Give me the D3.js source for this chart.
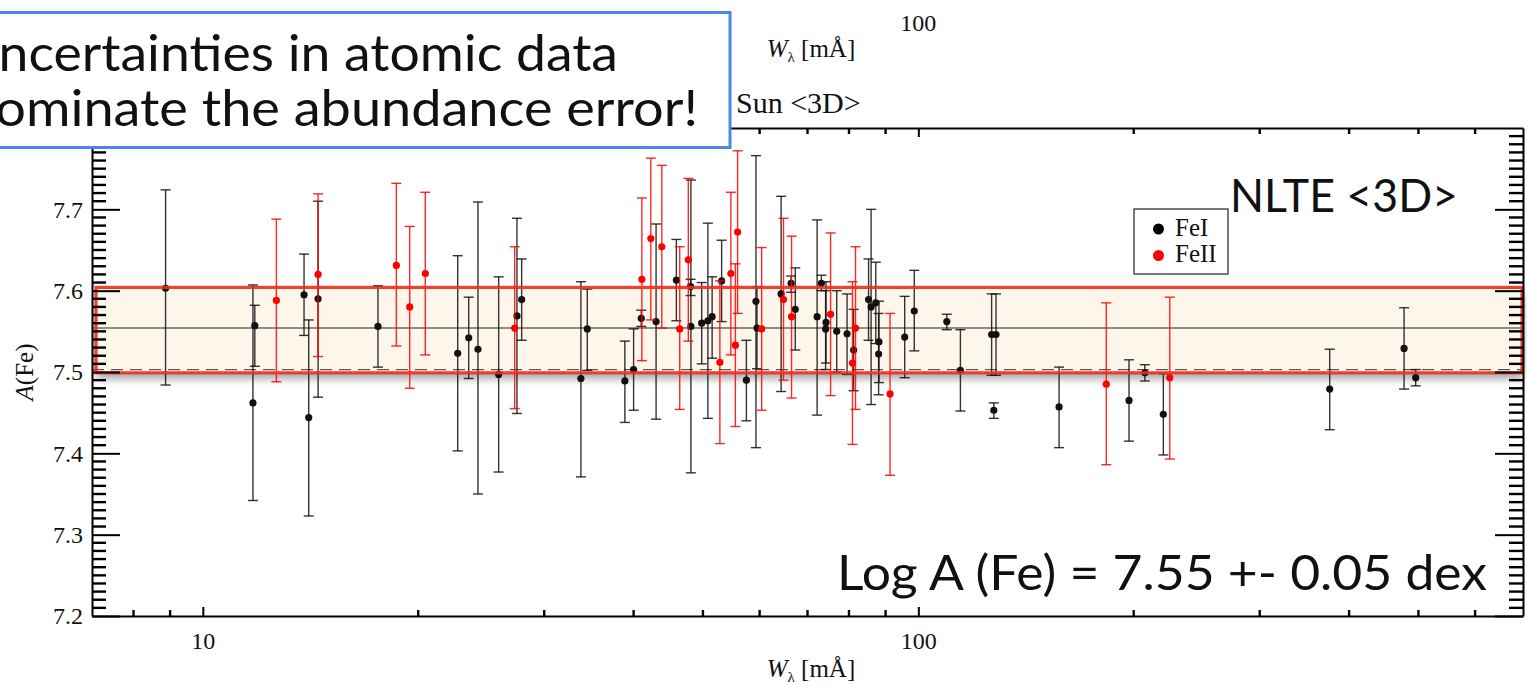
<!DOCTYPE html>
<html>
<head>
<meta charset="utf-8">
<script src="https://cdn.jsdelivr.net/npm/d3@7"></script>
<style>
  body { margin: 0; background: #fff; }
  svg { display: block; }
</style>
</head>
<body>
<div id="chart"></div>
<script>
// Fe I lines: [W_lambda (mA), A(Fe), low end of error bar, high end of error bar]
var feI = [
  [8.87, 7.603, 7.484, 7.724],
  [11.82, 7.557, 7.507, 7.582],
  [11.75, 7.462, 7.342, 7.607],
  [13.85, 7.595, 7.545, 7.645],
  [14.06, 7.444, 7.323, 7.564],
  [14.49, 7.590, 7.469, 7.710],
  [17.57, 7.556, 7.506, 7.606],
  [22.71, 7.523, 7.403, 7.643],
  [23.53, 7.542, 7.492, 7.592],
  [24.24, 7.528, 7.350, 7.709],
  [25.91, 7.497, 7.377, 7.617],
  [27.48, 7.569, 7.449, 7.689],
  [27.90, 7.589, 7.539, 7.639],
  [33.76, 7.492, 7.371, 7.611],
  [34.46, 7.553, 7.502, 7.602],
  [38.89, 7.489, 7.438, 7.538],
  [40.00, 7.503, 7.453, 7.553],
  [41.00, 7.566, 7.556, 7.576],
  [43.00, 7.562, 7.442, 7.682],
  [45.90, 7.613, 7.563, 7.663],
  [48.10, 7.556, 7.376, 7.736],
  [48.05, 7.605, 7.594, 7.614],
  [49.80, 7.560, 7.510, 7.610],
  [50.80, 7.563, 7.443, 7.683],
  [51.50, 7.568, 7.517, 7.617],
  [53.10, 7.612, 7.562, 7.662],
  [57.50, 7.490, 7.440, 7.539],
  [59.30, 7.587, 7.407, 7.766],
  [59.50, 7.554, 7.504, 7.605],
  [64.30, 7.596, 7.476, 7.716],
  [66.40, 7.609, 7.598, 7.618],
  [67.30, 7.577, 7.527, 7.628],
  [72.20, 7.568, 7.447, 7.687],
  [73.20, 7.609, 7.600, 7.619],
  [74.30, 7.561, 7.511, 7.611],
  [74.20, 7.553, 7.503, 7.600],
  [76.90, 7.550, 7.500, 7.600],
  [79.50, 7.547, 7.497, 7.596],
  [81.20, 7.527, 7.477, 7.577],
  [85.20, 7.589, 7.539, 7.639],
  [85.90, 7.580, 7.460, 7.700],
  [87.20, 7.585, 7.535, 7.635],
  [88.10, 7.537, 7.487, 7.587],
  [88.00, 7.522, 7.472, 7.572],
  [95.70, 7.543, 7.493, 7.593],
  [98.70, 7.575, 7.526, 7.625],
  [109.6, 7.562, 7.552, 7.571],
  [114.5, 7.502, 7.452, 7.552],
  [126.6, 7.546, 7.496, 7.596],
  [128.4, 7.546, 7.496, 7.596],
  [127.5, 7.453, 7.443, 7.462],
  [157.3, 7.457, 7.407, 7.506],
  [197.0, 7.465, 7.415, 7.515],
  [207.3, 7.499, 7.489, 7.509],
  [220.0, 7.448, 7.398, 7.498],
  [375.8, 7.479, 7.429, 7.528],
  [477.4, 7.529, 7.479, 7.579],
  [495.6, 7.493, 7.483, 7.503]
];

// Fe II lines
var feII = [
  [12.67, 7.588, 7.488, 7.688],
  [14.49, 7.620, 7.519, 7.719],
  [18.64, 7.631, 7.532, 7.732],
  [19.46, 7.580, 7.480, 7.679],
  [20.46, 7.621, 7.521, 7.721],
  [27.28, 7.554, 7.455, 7.654],
  [41.08, 7.614, 7.514, 7.714],
  [42.28, 7.664, 7.564, 7.763],
  [43.80, 7.654, 7.554, 7.754],
  [46.40, 7.553, 7.454, 7.654],
  [47.70, 7.638, 7.538, 7.738],
  [52.80, 7.512, 7.412, 7.612],
  [54.70, 7.621, 7.521, 7.721],
  [55.50, 7.533, 7.433, 7.633],
  [55.90, 7.672, 7.572, 7.772],
  [60.40, 7.553, 7.453, 7.653],
  [64.80, 7.589, 7.490, 7.689],
  [66.50, 7.568, 7.468, 7.667],
  [75.40, 7.571, 7.471, 7.671],
  [80.90, 7.511, 7.411, 7.611],
  [81.70, 7.554, 7.454, 7.654],
  [91.30, 7.473, 7.373, 7.572],
  [183.1, 7.485, 7.386, 7.585],
  [224.6, 7.493, 7.393, 7.592]
];

// reference levels: mean, meteoritic value, and the +- band
var meanLevel = 7.554;
var dashedLevel = 7.503;
var bandLevels = [7.499, 7.604];

// ticks
var yTickLabels = [7.2, 7.3, 7.4, 7.5, 7.6, 7.7];
var xTickLabels = [10, 100];
var xMinorTicks = [8, 9, 20, 30, 40, 50, 60, 70, 80, 90, 200, 300, 400, 500, 600];

// Set up SVG frame
var svgWidth = 1527;
var svgHeight = 685;

var Margin = { top: 128, right: 4, bottom: 69, left: 92 };

var width = svgWidth - Margin.left - Margin.right;
var height = svgHeight - Margin.top - Margin.bottom;

var svg = d3.select("#chart")
  .append("svg")
  .attr("width", svgWidth)
  .attr("height", svgHeight);

var defs = svg.append("defs");
var shadow = defs.append("filter")
  .attr("id", "bandShadow")
  .attr("x", "-5%").attr("y", "-20%")
  .attr("width", "110%").attr("height", "160%");
shadow.append("feDropShadow")
  .attr("dx", 1).attr("dy", 6)
  .attr("stdDeviation", 4)
  .attr("flood-color", "#000")
  .attr("flood-opacity", 0.35);

var chartGroup = svg.append("g")
  .attr("transform", `translate(${Margin.left}, ${Margin.top})`);

// scales
var xLogScale = d3.scaleLog().domain([7, 700]).range([0, width]);
var yLinearScale = d3.scaleLinear().domain([7.2, 7.8]).range([height, 0]);

var serif = "'Liberation Serif', 'DejaVu Serif', serif";
var sans = "Lato, 'Open Sans', sans-serif";

// shaded band (fill + shadow under the data)
var bandX0 = 4, bandX1 = width - 1;
chartGroup.append("rect")
  .attr("x", bandX0)
  .attr("y", yLinearScale(bandLevels[1]))
  .attr("width", bandX1 - bandX0)
  .attr("height", yLinearScale(bandLevels[0]) - yLinearScale(bandLevels[1]))
  .attr("fill", "#fef5eb")
  .attr("filter", "url(#bandShadow)");

// mean line and dashed line
chartGroup.append("line")
  .attr("x1", 0).attr("x2", width)
  .attr("y1", yLinearScale(meanLevel)).attr("y2", yLinearScale(meanLevel))
  .attr("stroke", "#6e6864")
  .attr("stroke-width", 1.5);

chartGroup.append("line")
  .attr("x1", 0).attr("x2", width)
  .attr("y1", yLinearScale(dashedLevel)).attr("y2", yLinearScale(dashedLevel))
  .attr("stroke", "#555")
  .attr("stroke-width", 1.3)
  .attr("stroke-dasharray", "12,7");

// error bars + points for one ion
function drawSeries(data, color, barOpacity) {
  var g = chartGroup.append("g");
  var bars = g.selectAll(".bar")
    .data(data)
    .enter()
    .append("g")
    .attr("stroke", color)
    .attr("stroke-opacity", barOpacity)
    .attr("stroke-width", 1.4);

  bars.append("line")
    .attr("x1", d => xLogScale(d[0])).attr("x2", d => xLogScale(d[0]))
    .attr("y1", d => yLinearScale(d[2])).attr("y2", d => yLinearScale(d[3]));
  bars.append("line")
    .attr("x1", d => xLogScale(d[0]) - 5).attr("x2", d => xLogScale(d[0]) + 5)
    .attr("y1", d => yLinearScale(d[2])).attr("y2", d => yLinearScale(d[2]));
  bars.append("line")
    .attr("x1", d => xLogScale(d[0]) - 5).attr("x2", d => xLogScale(d[0]) + 5)
    .attr("y1", d => yLinearScale(d[3])).attr("y2", d => yLinearScale(d[3]));

  g.selectAll("circle")
    .data(data)
    .enter()
    .append("circle")
    .attr("cx", d => xLogScale(d[0]))
    .attr("cy", d => yLinearScale(d[1]))
    .attr("r", 3.6)
    .attr("fill", color);
}

drawSeries(feI, "#111", 0.85);
drawSeries(feII, "#ff0000", 0.85);

// band outline on top of the data
chartGroup.append("rect")
  .attr("x", bandX0)
  .attr("y", yLinearScale(bandLevels[1]))
  .attr("width", bandX1 - bandX0)
  .attr("height", yLinearScale(bandLevels[0]) - yLinearScale(bandLevels[1]))
  .attr("fill", "none")
  .attr("stroke", "#ee2e1c")
  .attr("stroke-opacity", 0.9)
  .attr("stroke-width", 3.2);

// axes
function styleAxis(sel) {
  sel.selectAll("path").attr("stroke", "#000").attr("stroke-width", 2);
  sel.selectAll("line").attr("stroke", "#000").attr("stroke-width", 2);
  sel.selectAll("text")
    .attr("fill", "#111")
    .style("font-family", serif)
    .style("font-size", "24px");
}

chartGroup.append("g")
  .call(d3.axisLeft(yLinearScale).tickValues(yTickLabels).tickSizeInner(-28).tickSizeOuter(0)
    .tickPadding(9).tickFormat(d3.format(".1f")))
  .call(styleAxis);

chartGroup.append("g")
  .attr("transform", `translate(${width}, 0)`)
  .call(d3.axisRight(yLinearScale).tickValues(yTickLabels).tickSizeInner(-28).tickSizeOuter(0)
    .tickFormat(() => ""))
  .call(styleAxis);

chartGroup.append("g")
  .attr("transform", `translate(0, ${height})`)
  .call(d3.axisBottom(xLogScale).tickValues(xTickLabels).tickSizeInner(-9).tickSizeOuter(0)
    .tickPadding(16).tickFormat(d3.format("d")))
  .call(styleAxis);

chartGroup.append("g")
  .call(d3.axisTop(xLogScale).tickValues(xTickLabels).tickSizeInner(-9).tickSizeOuter(0)
    .tickFormat(() => ""))
  .call(styleAxis);

// axis titles
function wLabel(x, y) {
  var t = svg.append("text")
    .attr("x", x).attr("y", y)
    .attr("text-anchor", "middle")
    .attr("fill", "#111")
    .style("font-family", serif)
    .style("font-size", "25px");
  t.append("tspan").style("font-style", "italic").text("W");
  t.append("tspan").attr("dy", 5).style("font-size", "15px").text("λ");
  t.append("tspan").attr("dy", -5).text(" [mÅ]");
}
wLabel(811, 677);
wLabel(811, 57);

svg.append("text")
  .attr("x", Margin.left + xLogScale(100))
  .attr("y", 31)
  .attr("text-anchor", "middle")
  .attr("fill", "#111")
  .style("font-family", serif)
  .style("font-size", "24px")
  .text("100");

var yTitle = svg.append("text")
  .attr("transform", "translate(33, 372) rotate(-90)")
  .attr("text-anchor", "middle")
  .attr("fill", "#111")
  .style("font-family", serif)
  .style("font-size", "25px");
yTitle.append("tspan").style("font-style", "italic").text("A");
yTitle.append("tspan").text("(Fe)");

svg.append("text")
  .attr("x", 736)
  .attr("y", 113)
  .attr("fill", "#111")
  .style("font-family", serif)
  .style("font-size", "30px")
  .text("Sun <3D>");

// legend
var legend = svg.append("g");
legend.append("rect")
  .attr("x", 1134).attr("y", 209)
  .attr("width", 94).attr("height", 65)
  .attr("fill", "#fff")
  .attr("stroke", "#222")
  .attr("stroke-width", 1.2);
var legendItems = [["FeI", "#000"], ["FeII", "#ff0000"]];
legendItems.forEach(function(item, i) {
  legend.append("circle")
    .attr("cx", 1158.5).attr("cy", 229 + i * 26.5)
    .attr("r", 5.5)
    .attr("fill", item[1]);
  legend.append("text")
    .attr("x", 1175).attr("y", 236 + i * 26)
    .attr("fill", "#111")
    .style("font-family", serif)
    .style("font-size", "25px")
    .text(item[0]);
});

// annotations
svg.append("text")
  .attr("x", 1230).attr("y", 212)
  .attr("textLength", 228)
  .attr("lengthAdjust", "spacingAndGlyphs")
  .attr("fill", "#111")
  .style("font-family", sans)
  .style("font-size", "47px")
  .text("NLTE <3D>");

svg.append("text")
  .attr("x", 837).attr("y", 590)
  .attr("textLength", 650)
  .attr("lengthAdjust", "spacingAndGlyphs")
  .attr("fill", "#111")
  .style("font-family", sans)
  .style("font-size", "49px")
  .text("Log A (Fe) = 7.55 +- 0.05 dex");

// minor ticks
var yMinor = yLinearScale.ticks(60).filter(v => Math.abs(v * 10 - Math.round(v * 10)) > 1e-6);
var minorG = svg.append("g")
  .attr("transform", `translate(${Margin.left}, ${Margin.top})`)
  .attr("stroke", "#000")
  .attr("stroke-width", 2.4);

minorG.selectAll(".yminL")
  .data(yMinor)
  .enter()
  .append("line")
  .attr("x1", 0).attr("x2", 14)
  .attr("y1", d => yLinearScale(d)).attr("y2", d => yLinearScale(d));

minorG.selectAll(".yminR")
  .data(yMinor)
  .enter()
  .append("line")
  .attr("x1", width - 14).attr("x2", width)
  .attr("y1", d => yLinearScale(d)).attr("y2", d => yLinearScale(d));

minorG.selectAll(".xminB")
  .data(xMinorTicks)
  .enter()
  .append("line")
  .attr("x1", d => xLogScale(d)).attr("x2", d => xLogScale(d))
  .attr("y1", height).attr("y2", height - 6);

minorG.selectAll(".xminT")
  .data(xMinorTicks)
  .enter()
  .append("line")
  .attr("x1", d => xLogScale(d)).attr("x2", d => xLogScale(d))
  .attr("y1", 0).attr("y2", 6);

// call-out box over the top-left corner
svg.append("rect")
  .attr("x", -10).attr("y", 12.5)
  .attr("width", 740).attr("height", 135)
  .attr("fill", "#fff")
  .attr("stroke", "#4a86e8")
  .attr("stroke-width", 3);

svg.append("text")
  .attr("x", -40).attr("y", 71)
  .attr("textLength", 658)
  .attr("lengthAdjust", "spacingAndGlyphs")
  .attr("fill", "#111")
  .style("font-family", sans)
  .style("font-size", "51px")
  .text("Uncertainties in atomic data");

svg.append("text")
  .attr("x", -35).attr("y", 126)
  .attr("textLength", 733)
  .attr("lengthAdjust", "spacingAndGlyphs")
  .attr("fill", "#111")
  .style("font-family", sans)
  .style("font-size", "51px")
  .text("dominate the abundance error!");
</script>
</body>
</html>
